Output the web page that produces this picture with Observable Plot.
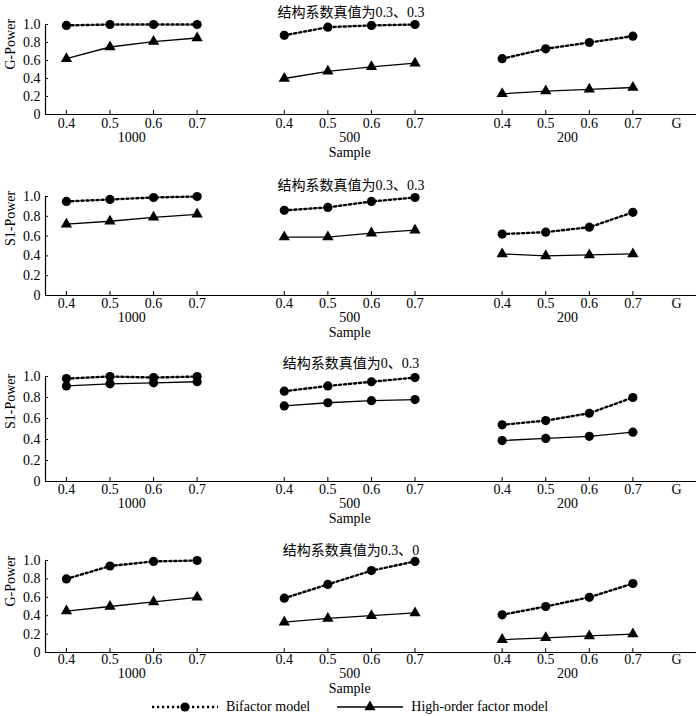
<!DOCTYPE html>
<html><head><meta charset="utf-8">
<script src="https://cdn.jsdelivr.net/npm/d3@7"></script>
<script src="https://cdn.jsdelivr.net/npm/@observablehq/plot@0.6"></script>
<style>
body{margin:0;background:#fff;}
#chart{width:700px;height:716px;position:relative;font-family:"Liberation Serif","Noto Sans CJK SC",serif;color:#000;}
#chart svg{display:block}
#legend{position:absolute;left:0;top:697px;width:700px;height:19px;display:flex;align-items:center;justify-content:center;font-size:14px;line-height:16px;}
#legend .item{display:flex;align-items:center;}
#legend svg{display:block}
</style></head><body><div id="chart"></div>
<script>
// ---- data ----
const groups = ["1000", "500", "200"];
const loadings = ["0.4", "0.5", "0.6", "0.7"];
const gLabel = "G";
const xTitle = "Sample";
const seriesNames = ["Bifactor model", "High-order factor model"];
const titles = ["结构系数真值为0.3、0.3", "结构系数真值为0.3、0.3", "结构系数真值为0、0.3", "结构系数真值为0.3、0"];
const yLabels = ["G-Power", "S1-Power", "S1-Power", "G-Power"];
const yTicks = [0, 0.2, 0.4, 0.6, 0.8, 1.0];

// values per sample group (1000, 500, 200) × loading (0.4..0.7)
const bifactorP1 = [[0.99, 1.00, 1.00, 1.00], [0.88, 0.97, 0.99, 1.00], [0.62, 0.73, 0.80, 0.87]];
const highOrderP1 = [[0.62, 0.75, 0.81, 0.85], [0.40, 0.48, 0.53, 0.57], [0.23, 0.26, 0.28, 0.30]];
const bifactorP2 = [[0.95, 0.97, 0.99, 1.00], [0.86, 0.89, 0.95, 0.99], [0.62, 0.64, 0.69, 0.84]];
const highOrderP2 = [[0.72, 0.75, 0.79, 0.82], [0.59, 0.59, 0.63, 0.66], [0.42, 0.40, 0.41, 0.42]];
const bifactorP3 = [[0.98, 1.00, 0.99, 1.00], [0.86, 0.91, 0.95, 0.99], [0.54, 0.58, 0.65, 0.80]];
const highOrderP3 = [[0.91, 0.93, 0.94, 0.95], [0.72, 0.75, 0.77, 0.78], [0.39, 0.41, 0.43, 0.47]];
const bifactorP4 = [[0.80, 0.94, 0.99, 1.00], [0.59, 0.74, 0.89, 0.99], [0.41, 0.50, 0.60, 0.75]];
const highOrderP4 = [[0.45, 0.50, 0.55, 0.60], [0.33, 0.37, 0.40, 0.43], [0.14, 0.16, 0.18, 0.20]];
const highOrderSymbols = ["triangle", "triangle", "circle", "triangle"];

const bifactor = [bifactorP1, bifactorP2, bifactorP3, bifactorP4];
const highOrder = [highOrderP1, highOrderP2, highOrderP3, highOrderP4];

// ---- layout ----
const W = 700, ML = 45, MR = 4;
const layout = [
  {top: 24, frame: 90, bottom: 48, lab: [13, 27, 42]},
  {top: 34, frame: 99, bottom: 50, lab: [12, 26, 41]},
  {top: 31, frame: 105, bottom: 49, lab: [12, 26, 41]},
  {top: 30, frame: 92, bottom: 43, lab: [11, 25, 40]}
];
const titleDy = [-17, -16, -18, -15];
const step = 5; // group spacing in index units
const xDomain = [-0.48, groups.length * step - 1 + 0.46];
const xTickPos = groups.flatMap((g, gi) => loadings.map((l, li) => gi * step + li));
const xTickText = groups.flatMap(() => loadings);
const gPos = groups.length * step - 1;
const font = '"Liberation Serif","Noto Sans CJK SC",serif';
const dotDash = "2.2,2.8";

const chart = document.getElementById("chart");

for (let p = 0; p < 4; p++) {
  const L = layout[p];
  const rows = [];
  groups.forEach((g, gi) => loadings.forEach((l, li) => {
    rows.push({x: gi * step + li, y: bifactor[p][gi][li], s: seriesNames[0], z: "b" + g});
    rows.push({x: gi * step + li, y: highOrder[p][gi][li], s: seriesNames[1], z: "h" + g});
  }));
  const bif = rows.filter(d => d.s === seriesNames[0]);
  const ho = rows.filter(d => d.s === seriesNames[1]);
  const frameW = W - ML - MR;
  const plot = Plot.plot({
    width: W,
    height: L.top + L.frame + L.bottom,
    marginLeft: ML, marginRight: MR, marginTop: L.top, marginBottom: L.bottom,
    style: {fontFamily: font, fontSize: "14px", color: "#000", background: "#fff", overflow: "visible"},
    x: {type: "linear", domain: xDomain, axis: null},
    y: {domain: [0, 1], axis: null},
    marks: [
      Plot.ruleY([0], {stroke: "#000", strokeWidth: 1.2}),
      Plot.ruleX([xDomain[0]], {stroke: "#000", strokeWidth: 1.2}),
      Plot.ruleX(xTickPos, {x: d => d, y1: 0, y2: 0, insetBottom: 4, stroke: "#000"}),
      Plot.ruleY(yTicks, {y: d => d, insetRight: frameW - 3, stroke: "#000"}),
      Plot.text(xTickPos, {x: d => d, text: (d, i) => xTickText[i], frameAnchor: "bottom", dy: L.lab[0], fontSize: 14}),
      Plot.text([gLabel], {x: gPos, text: d => d, frameAnchor: "bottom", dy: L.lab[0], fontSize: 14}),
      Plot.text(groups, {x: (d, i) => i * step + 1.5, text: d => d, frameAnchor: "bottom", dy: L.lab[1], fontSize: 14}),
      Plot.text([xTitle], {x: step + 1.5, text: d => d, frameAnchor: "bottom", dy: L.lab[2], fontSize: 14}),
      Plot.text(yTicks, {y: d => d, text: d => d === 0 ? "0" : d.toFixed(1), frameAnchor: "left", dx: -5, textAnchor: "end", fontSize: 14}),
      Plot.text([yLabels[p]], {text: d => d, frameAnchor: "left", rotate: -90, dx: -35, fontSize: 14}),
      Plot.text([titles[p]], {text: d => d, frameAnchor: "top", dy: titleDy[p], dx: -20, fontSize: 14}),
      Plot.line(bif, {x: "x", y: "y", z: "z", stroke: "#000", strokeWidth: 2.4, strokeDasharray: dotDash}),
      Plot.line(ho, {x: "x", y: "y", z: "z", stroke: "#000", strokeWidth: 1.3}),
      Plot.dot(bif, {x: "x", y: "y", r: 4.6, fill: "#000", stroke: "none", symbol: "circle"}),
      Plot.dot(ho, {x: "x", y: "y", r: highOrderSymbols[p] === "circle" ? 4.6 : 4.2, fill: "#000", stroke: "none", symbol: highOrderSymbols[p]})
    ]
  });
  chart.appendChild(plot);
}

// legend
const legend = document.createElement("div");
legend.id = "legend";
function item(name, dashed, sym, gapAfter) {
  const d = document.createElement("div");
  d.className = "item";
  d.style.marginRight = gapAfter + "px";
  const svg = d3.create("svg").attr("width", 66).attr("height", 14);
  svg.append("line").attr("x1", 0).attr("x2", 66).attr("y1", 7).attr("y2", 7)
    .attr("stroke", "#000").attr("stroke-width", dashed ? 2.4 : 1.5)
    .attr("stroke-dasharray", dashed ? dotDash : null);
  svg.append("path").attr("transform", "translate(33,7)")
    .attr("d", d3.symbol(sym === "circle" ? d3.symbolCircle : d3.symbolTriangle, sym === "circle" ? 66 : 55)())
    .attr("fill", "#000");
  d.appendChild(svg.node());
  const t = document.createElement("span");
  t.textContent = name;
  t.style.marginLeft = "8px";
  d.appendChild(t);
  return d;
}
legend.appendChild(item(seriesNames[0], true, "circle", 27));
legend.appendChild(item(seriesNames[1], false, "triangle", 0));
chart.appendChild(legend);
</script>
</body></html>
